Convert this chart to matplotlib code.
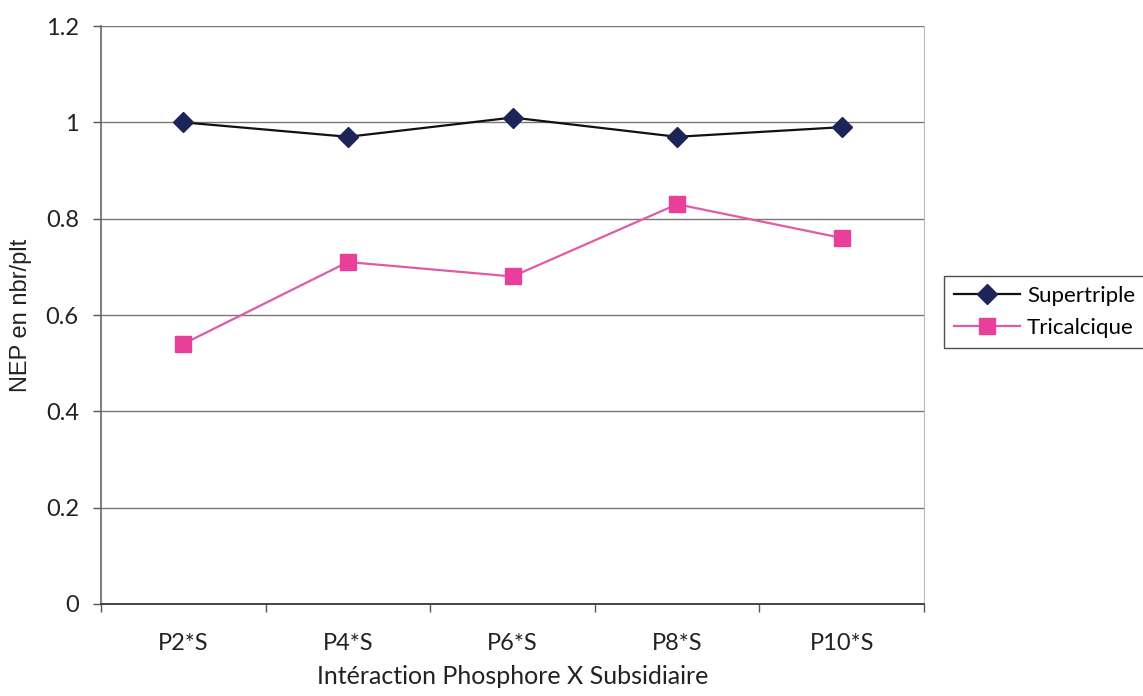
import matplotlib
matplotlib.use("Agg")
import matplotlib.pyplot as plt
import numpy as np

categories = ["P2*S", "P4*S", "P6*S", "P8*S", "P10*S"]
supertriple = [1.00, 0.97, 1.01, 0.97, 0.99]
tricalcique = [0.54, 0.71, 0.68, 0.83, 0.76]
y_ticks = [0, 0.2, 0.4, 0.6, 0.8, 1, 1.2]
y_labels = ["0", "0.2", "0.4", "0.6", "0.8", "1", "1.2"]

plt.rcParams["font.family"] = ["Lato", "DejaVu Sans"]

fig = plt.figure(figsize=(11.43, 6.96), dpi=100)
ax = fig.add_axes([0.0884, 0.1322, 0.7200, 0.8304])

x = np.arange(len(categories))
ax.plot(x, supertriple, color="#111111", lw=1.6, marker="D", ms=10,
        mfc="#1c2458", mec="#1c2458", label="Supertriple", zorder=3)
ax.plot(x, tricalcique, color="#e25aa5", lw=1.6, marker="s", ms=11,
        mfc="#e8409a", mec="#e8409a", label="Tricalcique", zorder=3)

ax.set_xlim(-0.5, len(categories) - 0.5)
ax.set_ylim(0, 1.2)
ax.set_yticks(y_ticks)
ax.set_yticklabels(y_labels)
ax.set_xticks(x)
ax.set_xticklabels(categories)
ax.set_xticks(np.arange(-0.5, len(categories)), minor=True)
ax.tick_params(axis="x", which="major", length=0, pad=21, labelsize=17, colors="#222222")
ax.tick_params(axis="x", which="minor", length=6, width=1, color="#555555", direction="out")
ax.tick_params(axis="y", length=6, width=1, color="#555555", labelsize=17,
               labelcolor="#222222", pad=10)

ax.grid(axis="y", color="#777777", lw=1)
ax.set_axisbelow(True)
ax.spines["top"].set_visible(False)
ax.spines["right"].set_color("#bbbbbb")
ax.spines["left"].set_color("#666666")
ax.spines["bottom"].set_color("#444444")
ax.spines["left"].set_linewidth(1.2)
ax.spines["bottom"].set_linewidth(1.4)

ax.set_xlabel("Intéraction Phosphore X Subsidiaire", fontsize=18, color="#222222",
              labelpad=8)
ax.set_ylabel("NEP en nbr/plt", fontsize=17, color="#222222", labelpad=10,
              family=["Liberation Sans", "DejaVu Sans"])

leg = ax.legend(loc="center left", bbox_to_anchor=(1.024, 0.505), frameon=True,
                fancybox=False, edgecolor="#222222", fontsize=16, handlelength=3.0,
                borderpad=0.45, labelspacing=0.55, handletextpad=0.3, borderaxespad=0)
leg.get_frame().set_linewidth(1.0)

fig.savefig("out.png", dpi=100, facecolor="white")
